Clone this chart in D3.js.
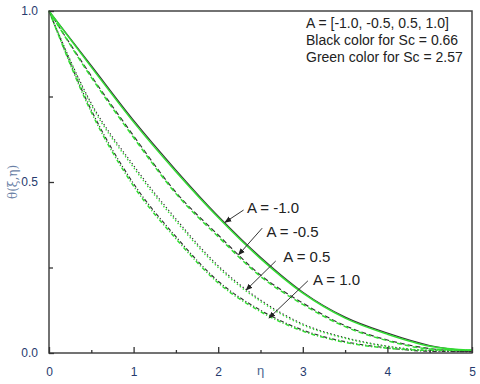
<!DOCTYPE html><html lang="en">
<head>
  <meta charset="UTF-8">
  <title>Concentration profiles</title>
  <script src="https://d3js.org/d3.v7.min.js"></script>
  <style>
    body {
      margin: 0;
      background: white;
      font-family: "Liberation Sans", Arial, sans-serif;
    }
    .tick-label {
      font-size: 12px;
      fill: #263a6e;
    }
    .note {
      font-size: 14px;
      fill: #222;
    }
    .a-label {
      font-size: 15px;
      fill: #222;
    }
  </style>
</head>
<body>
<svg width="480" height="384"></svg>
<script>
const eta = [0, 0.5, 1, 1.5, 2, 2.5, 3, 3.5, 4, 4.5, 5];

// Sc = 0.66 (black)
const black_Am10 = [1, 0.84, 0.68, 0.535, 0.40, 0.28, 0.178, 0.105, 0.058, 0.022, 0.004];
const black_Am05 = [1, 0.81, 0.635, 0.47, 0.345, 0.228, 0.146, 0.08, 0.038, 0.013, 0.004];
const black_Ap05 = [1, 0.73, 0.548, 0.392, 0.255, 0.155, 0.085, 0.045, 0.02, 0.007, 0.004];
const black_Ap10 = [1, 0.71, 0.495, 0.34, 0.21, 0.125, 0.067, 0.033, 0.015, 0.005, 0.004];

// Sc = 2.57 (green)
const green_Am10 = [1, 0.836, 0.675, 0.53, 0.396, 0.276, 0.175, 0.102, 0.055, 0.02, 0.008];
const green_Am05 = [1, 0.806, 0.63, 0.466, 0.34, 0.224, 0.142, 0.077, 0.036, 0.012, 0.008];
const green_Ap05 = [1, 0.725, 0.542, 0.386, 0.25, 0.151, 0.082, 0.043, 0.019, 0.008, 0.008];
const green_Ap10 = [1, 0.704, 0.488, 0.334, 0.205, 0.121, 0.064, 0.031, 0.014, 0.008, 0.008];

const aLabels = ["A = -1.0", "A = -0.5", "A = 0.5", "A = 1.0"];
// label anchor (eta, theta) and arrow tip (eta, theta)
const labelPos = [[2.34, 0.409], [2.57, 0.339], [2.77, 0.266], [3.12, 0.199]];
const arrowFrom = [[2.30, 0.418], [2.52, 0.365], [2.68, 0.269], [3.06, 0.211]];
const arrowTo = [[2.08, 0.382], [2.24, 0.287], [2.33, 0.184], [2.60, 0.102]];

const notes = ["A = [-1.0, -0.5, 0.5, 1.0]", "Black color for Sc = 0.66", "Green color for Sc = 2.57"];
const xTicks = [0, 1, 2, 3, 4, 5];
const yTicks = [0, 0.5, 1.0];

const margin = { top: 11, right: 8, bottom: 31, left: 49 };
const width = 480 - margin.left - margin.right;
const height = 384 - margin.top - margin.bottom;

const svg = d3.select("svg");
const g = svg.append("g")
  .attr("transform", `translate(${margin.left},${margin.top})`);

const x = d3.scaleLinear().domain([0, 5]).range([0, width]);
const y = d3.scaleLinear().domain([0, 1]).range([height, 0]);

const dashes = [null, "5,3", "1.3,2.4", "4,2,1.2,2"];
const blackSets = [black_Am10, black_Am05, black_Ap05, black_Ap10];
const greenSets = [green_Am10, green_Am05, green_Ap05, green_Ap10];

const line = d3.line()
  .x(d => x(d[0]))
  .y(d => y(d[1]))
  .curve(d3.curveMonotoneX);

// curves: black first, green over it
blackSets.forEach((vals, i) => {
  g.append("path")
    .attr("d", line(eta.map((e, k) => [e, vals[k]])))
    .attr("fill", "none")
    .attr("stroke", "#333")
    .attr("stroke-width", 1.2)
    .attr("stroke-dasharray", dashes[i]);
});
greenSets.forEach((vals, i) => {
  g.append("path")
    .attr("d", line(eta.map((e, k) => [e, vals[k]])))
    .attr("fill", "none")
    .attr("stroke", "#33dd33")
    .attr("stroke-width", 1.5)
    .attr("stroke-dasharray", dashes[i])
    .attr("stroke-dashoffset", i === 0 ? 0 : 2);
});

// frame
g.append("rect")
  .attr("width", width)
  .attr("height", height)
  .attr("fill", "none")
  .attr("stroke", "#444")
  .attr("stroke-width", 1.5);

// axes with inward ticks
g.append("g")
  .attr("transform", `translate(0,${height})`)
  .call(d3.axisBottom(x).tickValues(xTicks).tickSize(-6).tickPadding(14).tickFormat(d3.format("d")));
g.append("g")
  .attr("transform", `translate(0,${height})`)
  .call(d3.axisBottom(x).tickValues(d3.range(0.5, 5, 1)).tickSize(-3).tickFormat(""));
g.append("g")
  .call(d3.axisLeft(y).tickValues(yTicks).tickSize(-5).tickPadding(11).tickFormat(d3.format(".1f")));
g.append("g")
  .call(d3.axisLeft(y).tickValues([0.25, 0.75]).tickSize(-4).tickFormat(""));

g.selectAll(".domain").remove();
g.selectAll(".tick line").attr("stroke", "#333").attr("stroke-width", 1.3);
g.selectAll(".tick text")
  .attr("class", "tick-label")
  .attr("font-family", null)
  .attr("font-size", null);

// arrow marker
svg.append("defs").append("marker")
  .attr("id", "arr")
  .attr("viewBox", "0 0 10 10")
  .attr("refX", 9)
  .attr("refY", 5)
  .attr("markerWidth", 7)
  .attr("markerHeight", 7)
  .attr("orient", "auto")
  .append("path")
  .attr("d", "M0,1 L10,5 L0,9 Z")
  .attr("fill", "#222");

aLabels.forEach((t, i) => {
  g.append("line")
    .attr("x1", x(arrowFrom[i][0]))
    .attr("y1", y(arrowFrom[i][1]))
    .attr("x2", x(arrowTo[i][0]))
    .attr("y2", y(arrowTo[i][1]))
    .attr("stroke", "#333")
    .attr("stroke-width", 1)
    .attr("marker-end", "url(#arr)");
  g.append("text")
    .attr("class", "a-label")
    .attr("x", x(labelPos[i][0]))
    .attr("y", y(labelPos[i][1]))
    .text(t);
});

// note box text
g.selectAll("text.note")
  .data(notes)
  .enter()
  .append("text")
  .attr("class", "note")
  .attr("x", 257)
  .attr("y", (d, i) => 17 + i * 17)
  .text(d => d);

// axis titles
svg.append("text")
  .attr("x", margin.left + x(2.5))
  .attr("y", 375)
  .attr("text-anchor", "middle")
  .attr("font-size", 13)
  .attr("fill", "#4a6590")
  .text("η");

svg.append("text")
  .attr("transform", `translate(17,${margin.top + y(0.5)}) rotate(-90)`)
  .attr("text-anchor", "middle")
  .attr("font-size", 12)
  .attr("font-family", "DejaVu Serif, serif")
  .attr("fill", "#6a7fa6")
  .text("θ(ξ,η)");
</script>
</body>
</html>
